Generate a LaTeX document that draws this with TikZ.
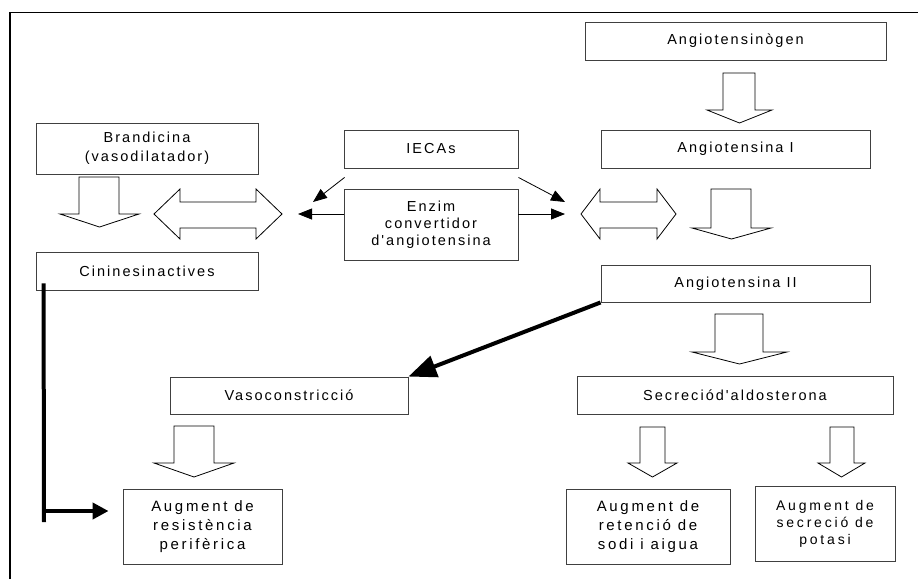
\documentclass[tikz,border=0pt]{standalone}
\usepackage{fontspec}
\setmainfont{Liberation Sans}
\newfontfamily\boxfont{Liberation Sans}[LetterSpace=14]
\newfontfamily\bigboxfont{Liberation Sans}[LetterSpace=18]
\newfontfamily\potfont{Liberation Sans}[LetterSpace=20]
\usetikzlibrary{arrows.meta, calc}

% hollow block arrows
\newcommand{\blockdown}[7]{%
  \draw[blockarrow] (#1,#3) -- (#1,#4) -- (#5,#4) -- ({(#5+#6)/2},#7) -- (#6,#4) -- (#2,#4) -- (#2,#3) -- cycle;}
\newcommand{\blockboth}[4]{%
  \draw[blockarrow] (#1,214) -- (#2,189) -- (#2,202) -- (#3,202) -- (#3,189) -- (#4,214)
    -- (#3,239) -- (#3,228) -- (#2,228) -- (#2,239) -- cycle;}

\begin{document}
\begin{tikzpicture}[x=1pt, y=-1pt,
    box/.style={draw=black!75, line width=0.9pt, inner sep=0pt, align=center,
      font=\boxfont\fontsize{14.5}{17}\selectfont},
    bigbox/.style={box, font=\bigboxfont\fontsize{15}{19}\selectfont},
    blockarrow/.style={draw=black, line width=0.8pt, fill=white},
    thinarrow/.style={line width=0.8pt, -{Triangle[length=14pt,width=11pt]}},
    thickarrow/.style={line width=4pt, -{Triangle[length=28pt,width=22pt]}}]
    \useasboundingbox (0,0) rectangle (920,579);

    % Frame
    \draw[line width=1.6pt] (10,579) -- (10,12.5) -- (918,12.5);

    % Boxes
    \node[box, minimum width=301pt, minimum height=38pt] (angiogen) at (735.5,41) {Angiotensinògen};
    \node[box, minimum width=269pt, minimum height=38pt] (angioI) at (735.5,149) {Angiotensina I};
    \node[box, minimum width=174pt, minimum height=38pt] (iecas) at (431,149) {IECAs};
    \node[box, minimum width=222pt, minimum height=51pt, font=\boxfont\fontsize{14.5}{19}\selectfont] (brand) at (147,148.5) {Brandicina\\(vasodilatador)};
    \node[box, minimum width=174pt, minimum height=71pt] (enzim) at (431,224.5) {Enzim\\convertidor\\d'angiotensina};
    \node[box, minimum width=222pt, minimum height=38pt] (cinines) at (147,271) {Cininesinactives};
    \node[box, minimum width=269pt, minimum height=37pt] (angioII) at (735.5,283.5) {Angiotensina II};
    \node[box, minimum width=238pt, minimum height=37pt] (vaso) at (289,395.5) {Vasoconstricció};
    \node[box, minimum width=316pt, minimum height=38pt] (aldo) at (735,395) {Secreciód'aldosterona};
    \node[bigbox, minimum width=159pt, minimum height=75pt] (augres) at (202.5,526.5) {Augment de\\resistència\\perifèrica};
    \node[bigbox, minimum width=164pt, minimum height=75pt] (augsod) at (648,526.5) {Augment de\\retenció de\\sodi i aigua};
    \node[bigbox, minimum width=140pt, minimum height=75pt, font=\potfont\fontsize{14}{17}\selectfont] (augpot) at (825,524) {Augment de\\secreció de\\potasi};

    % Block arrows
    \blockdown{723}{755}{73}{110}{707}{772}{123}
    \blockdown{79}{119}{177}{214}{60}{139}{227}
    \blockdown{711}{751}{189}{228}{692}{771}{239}
    \blockdown{715}{763}{314}{352}{692}{787}{364}
    \blockdown{174}{214}{426}{463}{154}{234}{477}
    \blockdown{640}{665}{427}{463}{628}{677}{477}
    \blockdown{830}{854}{427}{463}{818}{865}{477}
    \blockboth{154}{180}{256}{282}
    \blockboth{581}{600}{657}{676}

    % IECAs and enzyme
    \coordinate (iecasL) at ($(iecas.south west)+(1,9)$);
    \coordinate (iecasR) at ($(iecas.south east)+(0,9)$);
    \coordinate (leftup) at (313,202);
    \coordinate (leftmid) at (298,214);
    \coordinate (rightup) at (565,202);
    \coordinate (rightmid) at (565,214);
    \draw[thinarrow] (iecasL) -- (leftup);
    \draw[thinarrow] (iecasR) -- (rightup);
    \draw[thinarrow] (enzim.west |- leftmid) -- (leftmid);
    \draw[thinarrow] (enzim.east |- rightmid) -- (rightmid);

    % Thick connectors
    \draw[thickarrow] (angioII.south west) -- (vaso.north east);
    \coordinate (cinTop) at ($(cinines.south west)+(8,-7)$);
    \coordinate (cinBot) at (44,522);
    \coordinate (cinTurn) at (42,511);
    \draw[line width=4pt] (cinTop) -- (cinBot);
    \draw[line width=4pt, -{Triangle[length=16pt,width=16pt]}, shorten >=14pt] (cinTurn) -- (cinTurn -| augres.west);
\end{tikzpicture}
\end{document}
